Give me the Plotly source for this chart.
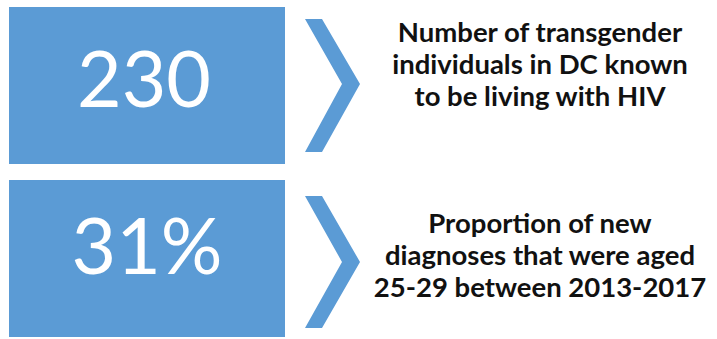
import plotly.graph_objects as go

values = ["230", "31%"]
desc_lines = [
    ["Number of transgender", "individuals in DC known", "to be living with HIV"],
    ["Proportion of new", "diagnoses that were aged", "25-29 between 2013-2017"],
]

BLUE = "#5B9BD5"
W, H = 717, 339

# panel geometry (pixel-like data coords)
boxes = [(9, 7, 285, 164), (9, 180, 285, 337)]
chevrons = [(305, 19, 152, 84), (305, 196, 328, 262)]
num_pos = [(144, 88), (147, 255)]
desc_x = 540
desc_y0 = [35, 226]
line_gap = 32

fig = go.Figure()
shapes = []
for (x0, y0, x1, y1) in boxes:
    shapes.append(dict(type="rect", xref="x", yref="y", x0=x0, y0=y0, x1=x1, y1=y1,
                       fillcolor=BLUE, line=dict(width=0), layer="below"))
for (cx, top, bot, mid) in chevrons:
    path = (f"M {cx},{top} L {cx+17},{top} L {cx+55},{mid} L {cx+17},{bot} "
            f"L {cx},{bot} L {cx+37},{mid} Z")
    shapes.append(dict(type="path", xref="x", yref="y", path=path,
                       fillcolor=BLUE, line=dict(width=0), layer="below"))

fig.add_trace(go.Scatter(
    x=[p[0] for p in num_pos], y=[p[1] for p in num_pos], mode="text", text=values,
    textfont=dict(family="Lato, Calibri, sans-serif", size=77, color="white"),
    textposition="middle center", hoverinfo="skip", showlegend=False))

xs, ys, ts = [], [], []
for lines, y0 in zip(desc_lines, desc_y0):
    for i, t in enumerate(lines):
        xs.append(desc_x)
        ys.append(y0 + i * line_gap)
        ts.append(t)
fig.add_trace(go.Scatter(
    x=xs, y=ys, mode="text", text=ts,
    textfont=dict(family="Lato, Calibri, sans-serif", size=27.5, color="#111111", weight="bold"),
    textposition="middle center", hoverinfo="skip", showlegend=False))

fig.update_layout(
    width=W, height=H, margin=dict(l=0, r=0, t=0, b=0),
    paper_bgcolor="white", plot_bgcolor="white", shapes=shapes,
    xaxis=dict(range=[0, W], visible=False, fixedrange=True),
    yaxis=dict(range=[H, 0], visible=False, fixedrange=True),
)
fig.write_html("out.html", config={"displayModeBar": False},
               post_script="document.body.style.margin='0';document.body.style.overflow='hidden';")
